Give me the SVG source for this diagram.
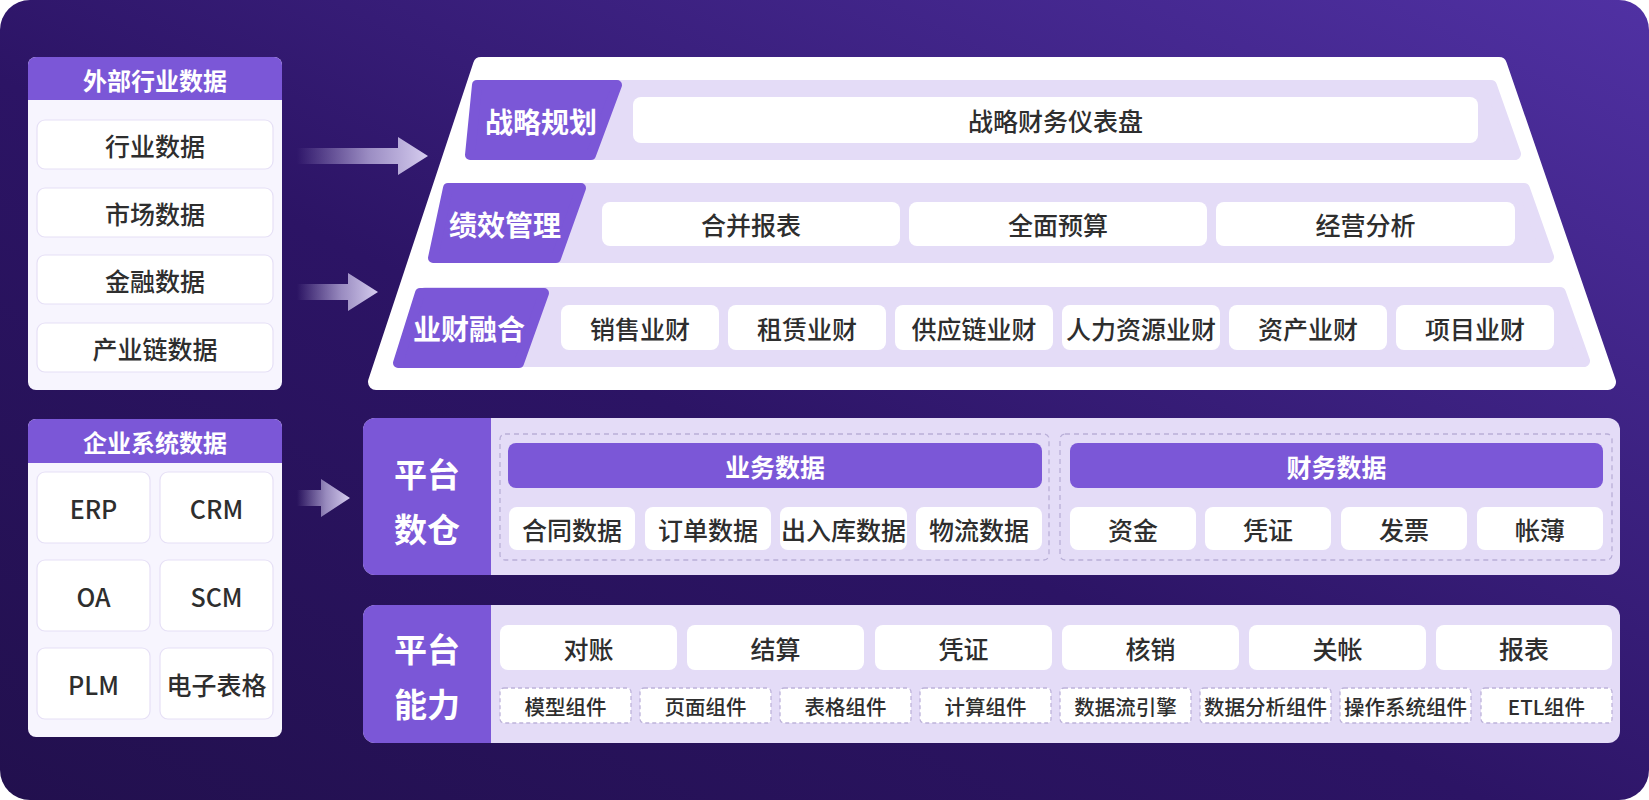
<svg xmlns="http://www.w3.org/2000/svg" width="1649" height="800" viewBox="0 0 1649 800">
<defs>
<linearGradient id="bg" x1="0" y1="1" x2="1" y2="0">
<stop offset="0" stop-color="#22104e"/>
<stop offset="0.45" stop-color="#2c1465"/>
<stop offset="1" stop-color="#5031a3"/>
</linearGradient>
<linearGradient id="arrowGrad" x1="0" y1="0" x2="1" y2="0">
<stop offset="0" stop-color="#c9bfe8" stop-opacity="0"/>
<stop offset="0.55" stop-color="#c9bfe8" stop-opacity="0.7"/>
<stop offset="1" stop-color="#d6cdef"/>
</linearGradient>
<style>
.hdr{font-family:"Noto Sans CJK SC","Noto Sans",sans-serif;font-weight:bold;fill:#ffffff;font-size:24px;text-anchor:middle;dominant-baseline:central;}
.hdr2{font-family:"Noto Sans CJK SC","Noto Sans",sans-serif;font-weight:bold;fill:#ffffff;font-size:25px;text-anchor:middle;dominant-baseline:central;}
.tab{font-family:"Noto Sans CJK SC","Noto Sans",sans-serif;font-weight:bold;fill:#ffffff;font-size:28px;text-anchor:middle;dominant-baseline:central;}
.big{font-family:"Noto Sans CJK SC","Noto Sans",sans-serif;font-weight:bold;fill:#ffffff;font-size:33px;text-anchor:middle;dominant-baseline:central;}
.t{font-family:"Noto Sans CJK SC","Noto Sans",sans-serif;font-weight:500;fill:#2e2e2e;font-size:25px;text-anchor:middle;dominant-baseline:central;}
.ts{font-family:"Noto Sans CJK SC","Noto Sans",sans-serif;font-weight:500;fill:#2e2e2e;font-size:20.5px;text-anchor:middle;dominant-baseline:central;}
.panel{fill:#f7f5fe;}
.purple{fill:#7b57d7;}
.item{fill:#ffffff;stroke:#e6e0f6;stroke-width:1.2;}
.cell{fill:#ffffff;}
.lav{fill:#e4dcf7;}
.dash{fill:none;stroke:#b9afd8;stroke-width:1.3;stroke-dasharray:5 4;}
.dcell{fill:#ffffff;stroke:#bdb3da;stroke-width:1.3;stroke-dasharray:4 3;}
</style>
</defs>

<rect x="0" y="0" width="1649" height="800" fill="#ffffff"/>
<rect x="0" y="0" width="1649" height="800" rx="30" fill="url(#bg)"/>

<!-- Left panel 1 -->
<g id="external-data">
<rect x="28" y="57" width="254" height="333" rx="8" class="panel"/>
<path d="M28,100 V65 a8,8 0 0 1 8,-8 H274 a8,8 0 0 1 8,8 V100 Z" class="purple"/>
<text x="155" y="79" class="hdr">外部行业数据</text>
<rect x="37" y="120" width="236" height="49" rx="8" class="item"/>
<text x="155" y="144.5" class="t">行业数据</text>
<rect x="37" y="188" width="236" height="49" rx="8" class="item"/>
<text x="155" y="212.5" class="t">市场数据</text>
<rect x="37" y="255" width="236" height="49" rx="8" class="item"/>
<text x="155" y="279.5" class="t">金融数据</text>
<rect x="37" y="323" width="236" height="49" rx="8" class="item"/>
<text x="155" y="347.5" class="t">产业链数据</text>
</g>

<!-- Left panel 2 -->
<g id="enterprise-data">
<rect x="28" y="419" width="254" height="318" rx="8" class="panel"/>
<path d="M28,463 V427 a8,8 0 0 1 8,-8 H274 a8,8 0 0 1 8,8 V463 Z" class="purple"/>
<text x="155" y="441" class="hdr">企业系统数据</text>
<rect x="37" y="472" width="113" height="71" rx="8" class="item"/>
<text x="93.5" y="507.5" class="t">ERP</text>
<rect x="160" y="472" width="113" height="71" rx="8" class="item"/>
<text x="216.5" y="507.5" class="t">CRM</text>
<rect x="37" y="560" width="113" height="71" rx="8" class="item"/>
<text x="93.5" y="595.5" class="t">OA</text>
<rect x="160" y="560" width="113" height="71" rx="8" class="item"/>
<text x="216.5" y="595.5" class="t">SCM</text>
<rect x="37" y="648" width="113" height="71" rx="8" class="item"/>
<text x="93.5" y="683.5" class="t">PLM</text>
<rect x="160" y="648" width="113" height="71" rx="8" class="item"/>
<text x="216.5" y="683.5" class="t">电子表格</text>
</g>

<!-- Connectors -->
<g id="connectors" fill="url(#arrowGrad)">
<polygon points="297,148 398,148 398,137 428,156 398,175 398,164 297,164"/>
<polygon points="297,284 348,284 348,273 378,292 348,311 348,300 297,300"/>
<polygon points="297,490 321,490 321,479 350,498 321,517 321,506 297,506"/>
</g>

<!-- Pyramid -->
<g id="pyramid">
<polygon points="481,65 1499,65 1608,382 376,382" fill="#ffffff" stroke="#ffffff" stroke-width="16" stroke-linejoin="round"/>
</g>

<g id="row-strategy">
<polygon points="485,86 1491,86 1515,154 476,154" class="lav" stroke="#e4dcf7" stroke-width="12" stroke-linejoin="round"/>
<polygon points="477,85 617,85 591,155 470,155" class="purple" stroke="#7b57d7" stroke-width="10" stroke-linejoin="round"/>
<text x="541" y="121" class="tab">战略规划</text>
<rect x="633" y="97" width="845" height="46" rx="8" class="cell"/>
<text x="1055.5" y="120" class="t">战略财务仪表盘</text>
</g>

<g id="row-performance">
<polygon points="456,189 1524,189 1548,257 441,257" class="lav" stroke="#e4dcf7" stroke-width="12" stroke-linejoin="round"/>
<polygon points="448,188 581,188 556,258 433,258" class="purple" stroke="#7b57d7" stroke-width="10" stroke-linejoin="round"/>
<text x="505" y="224" class="tab">绩效管理</text>
<rect x="602" y="202" width="298" height="44" rx="8" class="cell"/>
<text x="751" y="224" class="t">合并报表</text>
<rect x="909" y="202" width="298" height="44" rx="8" class="cell"/>
<text x="1058" y="224" class="t">全面预算</text>
<rect x="1216" y="202" width="299" height="44" rx="8" class="cell"/>
<text x="1365.5" y="224" class="t">经营分析</text>
</g>

<g id="row-integration">
<polygon points="426,293 1560,293 1584,361 406,361" class="lav" stroke="#e4dcf7" stroke-width="12" stroke-linejoin="round"/>
<polygon points="420,293 544,293 519,363 398,363" class="purple" stroke="#7b57d7" stroke-width="10" stroke-linejoin="round"/>
<text x="469" y="328" class="tab">业财融合</text>
<rect x="561" y="305" width="158" height="45" rx="8" class="cell"/>
<text x="640" y="327.5" class="t">销售业财</text>
<rect x="728" y="305" width="158" height="45" rx="8" class="cell"/>
<text x="807" y="327.5" class="t">租赁业财</text>
<rect x="895" y="305" width="158" height="45" rx="8" class="cell"/>
<text x="974" y="327.5" class="t">供应链业财</text>
<rect x="1062" y="305" width="158" height="45" rx="8" class="cell"/>
<text x="1141" y="327.5" class="t">人力资源业财</text>
<rect x="1229" y="305" width="158" height="45" rx="8" class="cell"/>
<text x="1308" y="327.5" class="t">资产业财</text>
<rect x="1396" y="305" width="158" height="45" rx="8" class="cell"/>
<text x="1475" y="327.5" class="t">项目业财</text>
</g>

<!-- Platform data warehouse -->
<g id="platform-warehouse">
<rect x="363" y="418" width="1257" height="157" rx="12" class="lav"/>
<path d="M491,418 H375 a12,12 0 0 0 -12,12 V563 a12,12 0 0 0 12,12 H491 Z" class="purple"/>
<text x="427" y="473" class="big">平台</text>
<text x="427" y="528" class="big">数仓</text>
<rect x="500" y="434" width="549" height="126" rx="5" class="dash"/>
<rect x="1060" y="434" width="552" height="126" rx="5" class="dash"/>
<rect x="508" y="443" width="534" height="45" rx="8" class="purple"/>
<text x="775" y="465.5" class="hdr2">业务数据</text>
<rect x="1070" y="443" width="533" height="45" rx="8" class="purple"/>
<text x="1336.5" y="465.5" class="hdr2">财务数据</text>
<rect x="509" y="507" width="126" height="43" rx="8" class="cell"/>
<text x="572" y="528.5" class="t">合同数据</text>
<rect x="645" y="507" width="126" height="43" rx="8" class="cell"/>
<text x="708" y="528.5" class="t">订单数据</text>
<rect x="780" y="507" width="127" height="43" rx="8" class="cell"/>
<text x="843.5" y="528.5" class="t">出入库数据</text>
<rect x="916" y="507" width="126" height="43" rx="8" class="cell"/>
<text x="979" y="528.5" class="t">物流数据</text>
<rect x="1070" y="507" width="126" height="43" rx="8" class="cell"/>
<text x="1133" y="528.5" class="t">资金</text>
<rect x="1205" y="507" width="126" height="43" rx="8" class="cell"/>
<text x="1268" y="528.5" class="t">凭证</text>
<rect x="1341" y="507" width="126" height="43" rx="8" class="cell"/>
<text x="1404" y="528.5" class="t">发票</text>
<rect x="1477" y="507" width="126" height="43" rx="8" class="cell"/>
<text x="1540" y="528.5" class="t">帐薄</text>
</g>

<!-- Platform capability -->
<g id="platform-capability">
<rect x="363" y="605" width="1257" height="138" rx="12" class="lav"/>
<path d="M491,605 H375 a12,12 0 0 0 -12,12 V731 a12,12 0 0 0 12,12 H491 Z" class="purple"/>
<text x="427" y="648" class="big">平台</text>
<text x="427" y="703" class="big">能力</text>
<rect x="500" y="625" width="177" height="45" rx="8" class="cell"/>
<text x="588.5" y="647.5" class="t">对账</text>
<rect x="687" y="625" width="177" height="45" rx="8" class="cell"/>
<text x="775.5" y="647.5" class="t">结算</text>
<rect x="875" y="625" width="177" height="45" rx="8" class="cell"/>
<text x="963.5" y="647.5" class="t">凭证</text>
<rect x="1062" y="625" width="177" height="45" rx="8" class="cell"/>
<text x="1150.5" y="647.5" class="t">核销</text>
<rect x="1249" y="625" width="177" height="45" rx="8" class="cell"/>
<text x="1337.5" y="647.5" class="t">关帐</text>
<rect x="1436" y="625" width="176" height="45" rx="8" class="cell"/>
<text x="1524" y="647.5" class="t">报表</text>
<rect x="500" y="688" width="131" height="35" rx="4" class="dcell"/>
<text x="565.5" y="705.5" class="ts">模型组件</text>
<rect x="640" y="688" width="131" height="35" rx="4" class="dcell"/>
<text x="705.5" y="705.5" class="ts">页面组件</text>
<rect x="780" y="688" width="131" height="35" rx="4" class="dcell"/>
<text x="845.5" y="705.5" class="ts">表格组件</text>
<rect x="920" y="688" width="131" height="35" rx="4" class="dcell"/>
<text x="985.5" y="705.5" class="ts">计算组件</text>
<rect x="1060" y="688" width="131" height="35" rx="4" class="dcell"/>
<text x="1125.5" y="705.5" class="ts">数据流引擎</text>
<rect x="1200" y="688" width="131" height="35" rx="4" class="dcell"/>
<text x="1265.5" y="705.5" class="ts">数据分析组件</text>
<rect x="1340" y="688" width="131" height="35" rx="4" class="dcell"/>
<text x="1405.5" y="705.5" class="ts">操作系统组件</text>
<rect x="1481" y="688" width="131" height="35" rx="4" class="dcell"/>
<text x="1546.5" y="705.5" class="ts">ETL组件</text>
</g>
</svg>
